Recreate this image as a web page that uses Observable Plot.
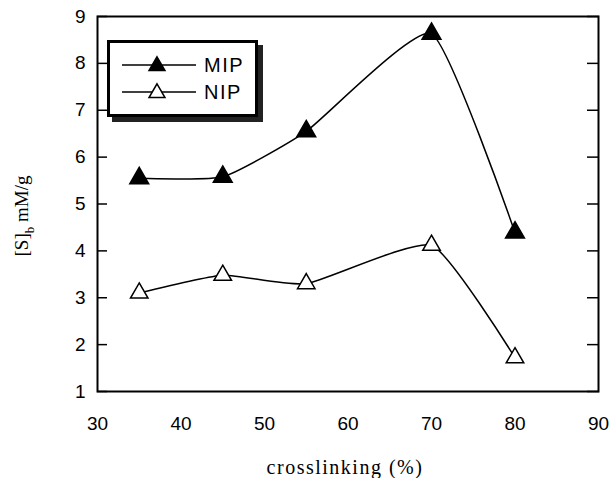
<!DOCTYPE html>
<html>
<head>
<meta charset="utf-8">
<script src="https://cdn.jsdelivr.net/npm/d3@7"></script>
<script src="https://cdn.jsdelivr.net/npm/@observablehq/plot@0.6"></script>
<style>
  body { margin: 0; background: #fff; }
  #wrap { position: relative; width: 612px; height: 478px; }
  #legend {
    position: absolute; left: 107px; top: 40px; width: 145px; height: 71px;
    border: 3px solid #000; background: #fff; box-shadow: 5px 5px 0 #222;
    font-family: "Liberation Sans", Arial, sans-serif; font-size: 20px;
  }
  .row { position: absolute; left: 0; height: 20px; display: flex; align-items: center; }
  .row span { margin-left: 8px; line-height: 20px; letter-spacing: 1.5px; }
</style>
</head>
<body>
<div id="wrap"></div>
<script>
const crosslinking = [35, 45, 55, 70, 80];
const mip = [5.55, 5.58, 6.55, 8.63, 4.39];
const nip = [3.10, 3.48, 3.30, 4.12, 1.72];
const xTicks = [30, 40, 50, 60, 70, 80, 90];
const yTicks = [1, 2, 3, 4, 5, 6, 7, 8, 9];
const seriesNames = ["MIP", "NIP"];

const rows = [];
crosslinking.forEach((c, i) => {
  rows.push({x: c, y: mip[i], s: "MIP"});
  rows.push({x: c, y: nip[i], s: "NIP"});
});
const mipRows = rows.filter(d => d.s === "MIP");
const nipRows = rows.filter(d => d.s === "NIP");

const chart = Plot.plot({
  width: 612,
  height: 478,
  marginLeft: 97,
  marginRight: 14,
  marginTop: 16,
  marginBottom: 87,
  style: {fontFamily: "'Liberation Sans', Arial, sans-serif", fontSize: "19px", background: "#fff", color: "#000"},
  x: {domain: [30, 90], ticks: xTicks},
  y: {domain: [1, 9], ticks: yTicks},
  marks: [
    Plot.axisX({ticks: xTicks, tickSize: 0, tickPadding: 25, label: null}),
    Plot.axisY({ticks: yTicks, tickSize: -10, tickPadding: 22, label: null, strokeWidth: 1.5}),
    Plot.axisY({anchor: "right", ticks: yTicks, tickSize: -12, tickFormat: () => "", label: null, strokeWidth: 1.5}),
    Plot.frame({stroke: "#000", strokeWidth: 2}),
    Plot.line(mipRows, {x: "x", y: "y", curve: "cardinal", tension: 0.5, stroke: "#000", strokeWidth: 1.5}),
    Plot.line(nipRows, {x: "x", y: "y", curve: "cardinal", tension: 0.5, stroke: "#000", strokeWidth: 1.5}),
    Plot.dot(mipRows, {x: "x", y: "y", symbol: "triangle", r: 7, fill: "#000", stroke: "#000"}),
    Plot.dot(nipRows, {x: "x", y: "y", symbol: "triangle", r: 6.5, fill: "#fff", stroke: "#000", strokeWidth: 1.5})
  ]
});

const svg = d3.select(chart);
svg.append("text")
  .attr("x", 345).attr("y", 474)
  .attr("text-anchor", "middle")
  .style("font-family", "'Liberation Serif', 'Times New Roman', serif")
  .style("font-size", "20px")
  .style("letter-spacing", "1.5px")
  .text("crosslinking (%)");

const yl = svg.append("text")
  .attr("transform", "translate(28,216) rotate(-90)")
  .attr("text-anchor", "middle")
  .style("font-family", "'Liberation Serif', 'Times New Roman', serif")
  .style("font-size", "19px");
yl.append("tspan").text("[S]");
yl.append("tspan").attr("dy", 6).style("font-size", "13px").text("b");
yl.append("tspan").attr("dy", -6).text(" mM/g");

const wrap = document.getElementById("wrap");
wrap.appendChild(chart);

// legend
const legend = document.createElement("div");
legend.id = "legend";
const fills = {MIP: "#000", NIP: "#fff"};
seriesNames.forEach((name, i) => {
  const row = document.createElement("div");
  row.className = "row";
  row.style.top = (12 + i * 27) + "px";
  const icon = d3.create("svg").attr("width", 86).attr("height", 20);
  icon.append("line").attr("x1", 12).attr("x2", 86).attr("y1", 10).attr("y2", 10)
    .attr("stroke", "#000").attr("stroke-width", 1.5);
  icon.append("path").attr("d", d3.symbol(d3.symbolTriangle, 110)())
    .attr("transform", "translate(47,11)")
    .attr("fill", fills[name]).attr("stroke", "#000").attr("stroke-width", 1.5);
  row.appendChild(icon.node());
  const t = document.createElement("span");
  t.textContent = name;
  row.appendChild(t);
  legend.appendChild(row);
});
wrap.appendChild(legend);
</script>
</body>
</html>
